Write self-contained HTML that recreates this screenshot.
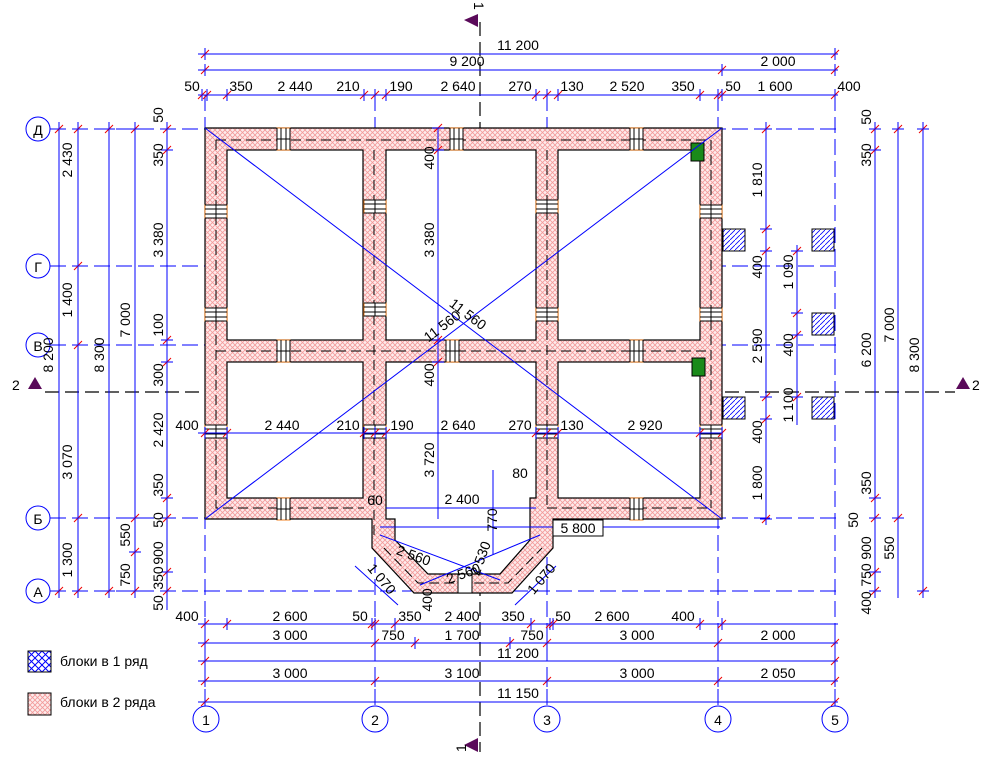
<!DOCTYPE html>
<html><head><meta charset="utf-8"><style>
html,body{margin:0;padding:0;background:#fff}
svg{display:block}
text{font-family:"Liberation Sans",sans-serif;font-size:14px;fill:#000}
</style></head><body>
<svg width="995" height="764" viewBox="0 0 995 764" xmlns="http://www.w3.org/2000/svg">
<defs>
<pattern id="pk" width="5" height="5" patternUnits="userSpaceOnUse">
<rect width="5" height="5" fill="#fdecec"/>
<path d="M0 0L5 5M5 0L0 5" stroke="#f39a9a" stroke-width="0.8"/>
</pattern>
<pattern id="bl" width="7" height="7" patternUnits="userSpaceOnUse">
<rect width="7" height="7" fill="#fff"/>
<path d="M0 0L7 7M7 0L0 7" stroke="#0000ff" stroke-width="1"/>
</pattern>
<pattern id="hs" width="5" height="5" patternUnits="userSpaceOnUse">
<rect width="5" height="5" fill="#fff"/>
<path d="M0 5L5 0" stroke="#0000ff" stroke-width="0.8"/>
</pattern>
<g id="t"><path d="M-4 4L4 -4" stroke="#e00" stroke-width="1"/><path d="M0 -6V6" stroke="#00f" stroke-width="1"/></g>
<g id="v"><path d="M-4 4L4 -4" stroke="#e00" stroke-width="1"/><path d="M-6 0H6" stroke="#00f" stroke-width="1"/></g>
<g id="wh"><rect x="0" y="0" width="13" height="22" fill="#fff" stroke="#f08020"/><path d="M0 0V22M4 0V22M9 0V22M13 0V22M0 11H13" stroke="#000" stroke-width="1"/></g>
<g id="wv"><rect x="0" y="0" width="22" height="13" fill="#fff" stroke="#f08020"/><path d="M0 0H22M0 4H22M0 9H22M0 13H22M11 0V13" stroke="#000" stroke-width="1"/></g>
</defs>

<g stroke="#0000ff" stroke-width="1" stroke-dasharray="16,6" fill="none">
<path d="M50 129H838M50 266H838M50 345H838M50 518H838M50 591H838"/>
<path d="M205 95V706M375 95V706M547 95V706M718 95V706M835 95V706"/>
</g>
<g stroke="#000" stroke-width="1.2" stroke-dasharray="14,6" fill="none">
<path d="M480 22V752"/><path d="M45 392H955"/>
</g>
<polygon points="478,14 478,27 464,20" fill="#5a0a5a"/>
<text x="0" y="0" transform="translate(474,2) rotate(90)" font-size="16">1</text>
<polygon points="478,738 478,752 464,745" fill="#5a0a5a"/>
<text x="0" y="0" transform="translate(466,752) rotate(-90)" font-size="16">1</text>
<polygon points="35,377 28,389 42,389" fill="#5a0a5a"/>
<text x="12" y="390" font-size="16">2</text>
<polygon points="963,377 956,389 970,389" fill="#5a0a5a"/>
<text x="972" y="390" font-size="16">2</text>

<path d="M205 128H722V519H553V548L512 593H414L372 548V519H205Z" fill="url(#pk)" stroke="#000" stroke-width="1.2"/>
<g fill="#fff" stroke="#000" stroke-width="1.2">
<rect x="227" y="150" width="136" height="190"/>
<rect x="386" y="150" width="150" height="190"/>
<rect x="558" y="150" width="142" height="190"/>
<rect x="227" y="362" width="136" height="136"/>
<rect x="558" y="362" width="142" height="136"/>
<path d="M386 362H536V498H530V540L500 574H428L395 540V519H386Z"/>
</g>
<g stroke="#000" stroke-width="1" stroke-dasharray="10,5" fill="none">
<path d="M216 140H711V508M216 140V508H364M547 508H711"/>
<path d="M374 150V540M547 150V508"/>
<path d="M216 351H711"/>
<path d="M384 548L418 583H508L542 548"/>
</g>
<g>
<use href="#wh" x="277" y="128"/><use href="#wh" x="450" y="128"/><use href="#wh" x="630" y="128"/>
<use href="#wv" x="205" y="205"/><use href="#wv" x="205" y="308"/><use href="#wv" x="205" y="425"/>
<use href="#wv" x="364" y="200"/><use href="#wv" x="364" y="303"/><use href="#wv" x="364" y="425"/>
<use href="#wv" x="536" y="200"/><use href="#wv" x="536" y="308"/><use href="#wv" x="536" y="425"/>
<use href="#wv" x="700" y="205"/><use href="#wv" x="700" y="308"/><use href="#wv" x="700" y="425"/>
<use href="#wh" x="277" y="340"/><use href="#wh" x="446" y="340"/><use href="#wh" x="630" y="340"/>
<use href="#wh" x="277" y="498"/><use href="#wh" x="630" y="498"/>
</g>
<rect x="458" y="574" width="14" height="19" fill="#fff" stroke="#000"/>
<rect x="691" y="143" width="13" height="18" fill="#1a8a1a" stroke="#000"/>
<rect x="692" y="358" width="13" height="18" fill="#1a8a1a" stroke="#000"/>
<g fill="url(#hs)" stroke="#000" stroke-width="1">
<rect x="723" y="229" width="22" height="22"/><rect x="812" y="229" width="22" height="22"/>
<rect x="812" y="313" width="22" height="22"/>
<rect x="723" y="397" width="22" height="22"/><rect x="812" y="397" width="22" height="22"/>
</g>

<g stroke="#0000ff" stroke-width="1" fill="none">
<path d="M205 128L722 519M722 128L205 519"/>
<path d="M198 54H838M198 70H838M198 95H838"/>
<path d="M59 122V598M78 122V598M109 122V598M135 122V598M167 122V610"/>
<path d="M766 122V525M797 245V425M875 122V598M898 122V598M923 122V598"/>
<path d="M198 624H838M198 643H838M198 661H838M198 681H838M198 702H838"/>
<path d="M198 433H722M438 128V519"/>
<path d="M386 508H536M380 527H720M493 470V555"/>
<path d="M380 535L500 580M540 535L420 585M355 566L398 605M556 566L515 605"/>
</g>
<g>
<use href="#t" x="205" y="54"/><use href="#t" x="835" y="54"/>
<use href="#t" x="205" y="70"/><use href="#t" x="722" y="70"/><use href="#t" x="835" y="70"/>
<use href="#t" x="202" y="95"/><use href="#t" x="207" y="95"/><use href="#t" x="227" y="95"/><use href="#t" x="364" y="95"/><use href="#t" x="375" y="95"/><use href="#t" x="386" y="95"/><use href="#t" x="536" y="95"/><use href="#t" x="547" y="95"/><use href="#t" x="558" y="95"/><use href="#t" x="700" y="95"/><use href="#t" x="718" y="95"/><use href="#t" x="722" y="95"/><use href="#t" x="835" y="95"/>
<use href="#v" x="59" y="129"/><use href="#v" x="78" y="129"/><use href="#v" x="78" y="266"/><use href="#v" x="78" y="345"/><use href="#v" x="78" y="518"/><use href="#v" x="59" y="591"/><use href="#v" x="78" y="591"/>
<use href="#v" x="109" y="129"/><use href="#v" x="109" y="591"/><use href="#v" x="135" y="129"/><use href="#v" x="135" y="518"/><use href="#v" x="135" y="552"/><use href="#v" x="135" y="591"/>
<use href="#v" x="167" y="129"/><use href="#v" x="167" y="150"/><use href="#v" x="167" y="340"/><use href="#v" x="167" y="362"/><use href="#v" x="167" y="498"/><use href="#v" x="167" y="518"/><use href="#v" x="167" y="572"/><use href="#v" x="167" y="591"/>
<use href="#v" x="766" y="129"/><use href="#v" x="766" y="229"/><use href="#v" x="766" y="251"/><use href="#v" x="766" y="397"/><use href="#v" x="766" y="419"/><use href="#v" x="766" y="519"/>
<use href="#v" x="797" y="251"/><use href="#v" x="797" y="313"/><use href="#v" x="797" y="335"/><use href="#v" x="797" y="397"/>
<use href="#v" x="875" y="129"/><use href="#v" x="875" y="150"/><use href="#v" x="875" y="498"/><use href="#v" x="875" y="518"/><use href="#v" x="875" y="572"/><use href="#v" x="875" y="591"/>
<use href="#v" x="898" y="129"/><use href="#v" x="898" y="518"/><use href="#v" x="923" y="129"/><use href="#v" x="923" y="591"/>
<use href="#t" x="205" y="624"/><use href="#t" x="227" y="624"/><use href="#t" x="372" y="624"/><use href="#t" x="375" y="624"/><use href="#t" x="395" y="624"/><use href="#t" x="531" y="624"/><use href="#t" x="550" y="624"/><use href="#t" x="553" y="624"/><use href="#t" x="700" y="624"/><use href="#t" x="722" y="624"/>
<use href="#t" x="205" y="643"/><use href="#t" x="375" y="643"/><use href="#t" x="415" y="643"/><use href="#t" x="510" y="643"/><use href="#t" x="547" y="643"/><use href="#t" x="718" y="643"/><use href="#t" x="835" y="643"/>
<use href="#t" x="205" y="661"/><use href="#t" x="835" y="661"/>
<use href="#t" x="205" y="681"/><use href="#t" x="375" y="681"/><use href="#t" x="547" y="681"/><use href="#t" x="718" y="681"/><use href="#t" x="835" y="681"/>
<use href="#t" x="205" y="702"/><use href="#t" x="835" y="702"/>
<use href="#t" x="205" y="433"/><use href="#t" x="227" y="433"/><use href="#t" x="364" y="433"/><use href="#t" x="375" y="433"/><use href="#t" x="386" y="433"/><use href="#t" x="536" y="433"/><use href="#t" x="547" y="433"/><use href="#t" x="558" y="433"/><use href="#t" x="700" y="433"/><use href="#t" x="722" y="433"/>
<use href="#v" x="438" y="128"/><use href="#v" x="438" y="150"/><use href="#v" x="438" y="340"/><use href="#v" x="438" y="362"/>
</g>

<g fill="#fff" stroke="#0000ff" stroke-width="1">
<circle cx="38" cy="129" r="12"/><circle cx="38" cy="266" r="12"/><circle cx="38" cy="345" r="12"/><circle cx="38" cy="518" r="12"/><circle cx="38" cy="591" r="12"/>
<circle cx="206" cy="719" r="13"/><circle cx="375" cy="719" r="13"/><circle cx="547" cy="719" r="13"/><circle cx="718" cy="719" r="13"/><circle cx="835" cy="719" r="13"/>
</g>
<g text-anchor="middle">
<text x="38" y="135" font-size="16">Д</text><text x="38" y="272" font-size="16">Г</text><text x="38" y="351" font-size="16">В</text><text x="38" y="524" font-size="16">Б</text><text x="38" y="597" font-size="16">А</text>
<text x="206" y="725" font-size="16">1</text><text x="375" y="725" font-size="16">2</text><text x="547" y="725" font-size="16">3</text><text x="718" y="725" font-size="16">4</text><text x="835" y="725" font-size="16">5</text>
</g>

<g text-anchor="middle">
<text x="518" y="50">11 200</text>
<text x="467" y="66">9 200</text><text x="778" y="66">2 000</text>
<text x="192" y="91">50</text><text x="241" y="91">350</text><text x="295" y="91">2 440</text><text x="348" y="91">210</text><text x="401" y="91">190</text><text x="458" y="91">2 640</text><text x="520" y="91">270</text><text x="572" y="91">130</text><text x="627" y="91">2 520</text><text x="683" y="91">350</text><text x="733" y="91">50</text><text x="775" y="91">1 600</text><text x="849" y="91">400</text>
<text x="187" y="430">400</text><text x="282" y="430">2 440</text><text x="348" y="430">210</text><text x="402" y="430">190</text><text x="458" y="430">2 640</text><text x="520" y="430">270</text><text x="572" y="430">130</text><text x="645" y="430">2 920</text>
<text x="187" y="621">400</text><text x="290" y="621">2 600</text><text x="360" y="621">50</text><text x="410" y="621">350</text><text x="462" y="621">2 400</text><text x="513" y="621">350</text><text x="563" y="621">50</text><text x="612" y="621">2 600</text><text x="683" y="621">400</text>
<text x="290" y="640">3 000</text><text x="393" y="640">750</text><text x="462" y="640">1 700</text><text x="532" y="640">750</text><text x="637" y="640">3 000</text><text x="778" y="640">2 000</text>
<text x="518" y="658">11 200</text>
<text x="290" y="678">3 000</text><text x="462" y="678">3 100</text><text x="637" y="678">3 000</text><text x="778" y="678">2 050</text>
<text x="518" y="698">11 150</text>
<text x="462" y="504">2 400</text><text x="520" y="478">80</text><text x="375" y="505">60</text>
</g>
<rect x="553" y="520" width="50" height="16" fill="#fff" stroke="#000"/>
<text x="578" y="533" text-anchor="middle">5 800</text>

<g text-anchor="middle">
<text transform="translate(72,160) rotate(-90)">2 430</text>
<text transform="translate(72,300) rotate(-90)">1 400</text>
<text transform="translate(72,462) rotate(-90)">3 070</text>
<text transform="translate(72,560) rotate(-90)">1 300</text>
<text transform="translate(53,355) rotate(-90)">8 200</text>
<text transform="translate(104,355) rotate(-90)">8 300</text>
<text transform="translate(130,320) rotate(-90)">7 000</text>
<text transform="translate(130,535) rotate(-90)">550</text>
<text transform="translate(130,575) rotate(-90)">750</text>
<text transform="translate(163,115) rotate(-90)">50</text>
<text transform="translate(163,155) rotate(-90)">350</text>
<text transform="translate(163,240) rotate(-90)">3 380</text>
<text transform="translate(163,325) rotate(-90)">100</text>
<text transform="translate(163,375) rotate(-90)">300</text>
<text transform="translate(163,430) rotate(-90)">2 420</text>
<text transform="translate(163,485) rotate(-90)">350</text>
<text transform="translate(163,520) rotate(-90)">50</text>
<text transform="translate(163,553) rotate(-90)">900</text>
<text transform="translate(163,578) rotate(-90)">350</text>
<text transform="translate(163,603) rotate(-90)">50</text>
<text transform="translate(434,158) rotate(-90)">400</text>
<text transform="translate(434,240) rotate(-90)">3 380</text>
<text transform="translate(434,375) rotate(-90)">400</text>
<text transform="translate(434,460) rotate(-90)">3 720</text>
<text transform="translate(497,520) rotate(-90)">770</text>
<text transform="translate(762,180) rotate(-90)">1 810</text>
<text transform="translate(762,267) rotate(-90)">400</text>
<text transform="translate(762,346) rotate(-90)">2 590</text>
<text transform="translate(762,432) rotate(-90)">400</text>
<text transform="translate(762,483) rotate(-90)">1 800</text>
<text transform="translate(793,272) rotate(-90)">1 090</text>
<text transform="translate(793,345) rotate(-90)">400</text>
<text transform="translate(793,405) rotate(-90)">1 100</text>
<text transform="translate(871,117) rotate(-90)">50</text>
<text transform="translate(871,155) rotate(-90)">350</text>
<text transform="translate(871,350) rotate(-90)">6 200</text>
<text transform="translate(871,483) rotate(-90)">350</text>
<text transform="translate(858,520) rotate(-90)">50</text>
<text transform="translate(871,548) rotate(-90)">900</text>
<text transform="translate(871,575) rotate(-90)">750</text>
<text transform="translate(871,603) rotate(-90)">400</text>
<text transform="translate(894,548) rotate(-90)">550</text>
<text transform="translate(894,325) rotate(-90)">7 000</text>
<text transform="translate(919,355) rotate(-90)">8 300</text>
<text transform="translate(432,600) rotate(-90)">400</text>
</g>
<g text-anchor="middle">
<text transform="translate(465,318) rotate(37)">11 560</text>
<text transform="translate(445,330) rotate(-37)">11 560</text>
<text transform="translate(412,560) rotate(20)">2 560</text>
<text transform="translate(465,578) rotate(-20)">2 560</text>
<text transform="translate(485,560) rotate(-70)">2 530</text>
<text transform="translate(378,582) rotate(50)">1 070</text>
<text transform="translate(545,582) rotate(-50)">1 070</text>
</g>

<rect x="28" y="651" width="23" height="21" fill="url(#bl)" stroke="#000"/>
<text x="60" y="666">блоки в  1 ряд</text>
<rect x="28" y="693" width="23" height="22" fill="url(#pk)" stroke="#000"/>
<text x="60" y="707">блоки в  2 ряда</text>
</svg>
</body></html>
